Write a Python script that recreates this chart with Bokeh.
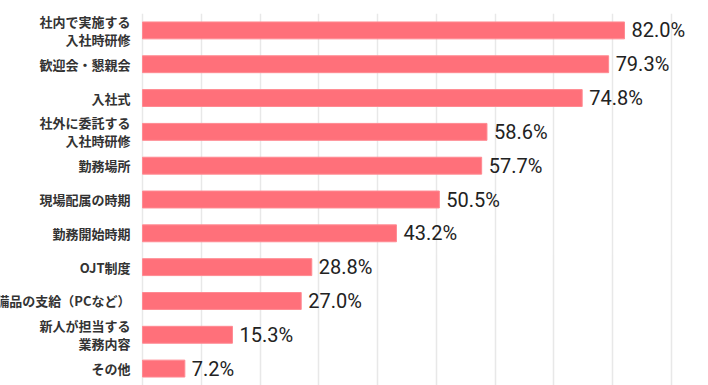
from bokeh.plotting import figure
from bokeh.models import ColumnDataSource, FixedTicker, Range1d, FactorRange
from bokeh.core.properties import value
from bokeh.embed import file_html
from bokeh.resources import INLINE

categories = ["社内で実施する\n入社時研修", "歓迎会・懇親会", "入社式", "社外に委託する\n入社時研修",
              "勤務場所", "現場配属の時期", "勤務開始時期", "OJT制度", "備品の支給（PCなど）",
              "新人が担当する\n業務内容", "その他"]
values = [82.0, 79.3, 74.8, 58.6, 57.7, 50.5, 43.2, 28.8, 27.0, 15.3, 7.2]
value_labels = [f"{v:.1f}%" for v in values]
grid_ticks = [0, 10, 20, 30, 40, 50, 60, 70, 80, 90]

src = ColumnDataSource(dict(cat=categories, val=values, lab=value_labels, zero=[0] * len(values)))

p = figure(width=708, height=385, output_backend="svg", toolbar_location=None,
           y_range=FactorRange(factors=list(reversed(categories)), range_padding=0),
           x_range=Range1d(-24.16, 96.29),
           min_border_left=0, min_border_right=0, min_border_top=13, min_border_bottom=0)

p.hbar(y="cat", right="val", left=0, height=0.5, source=src,
       fill_color="#ff707a", line_color="#ff8a92", line_width=1)

p.text(x="zero", y="cat", text="cat", source=src, x_offset=-12,
       text_align="right", text_baseline="middle",
       text_font=value("Noto Sans CJK JP"), text_font_style="bold",
       text_font_size="13px", text_color="#333333", text_line_height=0.95)
p.text(x="val", y="cat", text="lab", source=src, x_offset=7,
       text_align="left", text_baseline="middle",
       text_font=value("Roboto"), text_font_size="20px", text_color="#222222")

p.xaxis.visible = False
p.yaxis.visible = False
p.xgrid.ticker = FixedTicker(ticks=grid_ticks)
p.xgrid.grid_line_color = "#e8e8e8"
p.xgrid.grid_line_width = 1.5
p.ygrid.grid_line_color = None
p.outline_line_color = None
p.background_fill_color = "white"
p.border_fill_color = "white"

open("out.html", "w").write(file_html(p, INLINE))
